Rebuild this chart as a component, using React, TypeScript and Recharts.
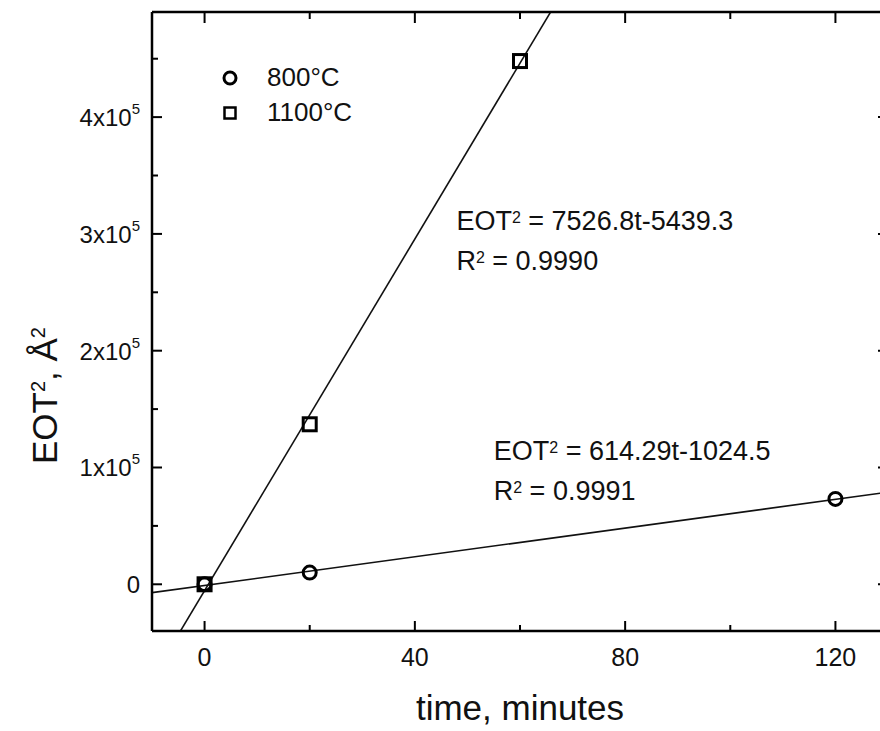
import { ComposedChart, Scatter, XAxis, YAxis, ReferenceLine, ReferenceDot, Legend } from 'recharts';

// measured EOT^2 (Å^2) against oxidation time (minutes)
const times800 = [0, 20, 120];
const eot800 = [0, 10000, 73100];
const times1100 = [0, 20, 60];
const eot1100 = [0, 137000, 448000];

// linear fits as printed on the figure
const fit800 = { slope: 614.29, intercept: -1024.5, r2: '0.9991' };
const fit1100 = { slope: 7526.8, intercept: -5439.3, r2: '0.9990' };

const xDomain = [-10, 130];
const yDomain = [-40000, 490000];
const xMajor = [0, 40, 80, 120];
const xMinor = [20, 60, 100];
const yMajor = [0, 100000, 200000, 300000, 400000];
const yMinor = [50000, 150000, 250000, 350000, 450000];

// where the fit equations sit, in data units (time, EOT^2)
const note1100 = { t: 47.9, eot: 303000 };
const note800 = { t: 55, eot: 106000 };

const FONT = '"Liberation Sans", Arial, Helvetica, sans-serif';
const INK = '#111';

const points800 = times800.map((t, i) => ({ t, eot: eot800[i] }));
const points1100 = times1100.map((t, i) => ({ t, eot: eot1100[i] }));

const fitLine = (f: { slope: number; intercept: number }) =>
  xDomain.map((t) => ({ x: t, y: f.slope * t + f.intercept }));

const BottomLabel = (props: any) => {
  const { x, y, payload } = props;
  return (
    <text x={x} y={y + 35} textAnchor="middle" fontSize={25} fontFamily={FONT} fill={INK}>
      {payload.value}
    </text>
  );
};

const LeftLabel = (props: any) => {
  const { x, y, payload } = props;
  const v = payload.value;
  return (
    <text x={x - 12} y={y + 9} textAnchor="end" fontSize={24} fontFamily={FONT} fill={INK}>
      {v === 0 ? (
        '0'
      ) : (
        <>
          {v / 100000}x10
          <tspan dy={-12} fontSize={15}>
            5
          </tspan>
        </>
      )}
    </text>
  );
};

const NoLabel = () => <g />;

// inward tick marks at both ends of a full-height / full-width reference line
const vTicks = (len: number) => (p: any) => {
  const top = Math.min(p.y1, p.y2);
  const bottom = Math.max(p.y1, p.y2);
  return (
    <g stroke="#000" strokeWidth={2}>
      <line x1={p.x1} x2={p.x1} y1={top} y2={top + len + 1} />
      <line x1={p.x1} x2={p.x1} y1={bottom} y2={bottom - len} />
    </g>
  );
};

const hTicks = (len: number) => (p: any) => {
  const left = Math.min(p.x1, p.x2);
  const right = Math.max(p.x1, p.x2);
  return (
    <g stroke="#000" strokeWidth={2}>
      <line x1={left} x2={left + len} y1={p.y1} y2={p.y1} />
      <line x1={right} x2={right - len} y1={p.y1} y2={p.y1} />
    </g>
  );
};

const Circle = (props: any) => (
  <circle cx={props.cx} cy={props.cy} r={6.5} fill="none" stroke="#000" strokeWidth={3} />
);

const Square = (props: any) => (
  <rect x={props.cx - 6.5} y={props.cy - 6.5} width={13} height={13} fill="none" stroke="#000" strokeWidth={3} />
);

const fitNote = (f: { slope: number; intercept: number; r2: string }) => (props: any) => {
  const { x, y } = props.viewBox;
  return (
    <g fontFamily={FONT} fontSize={27} fill={INK}>
      <text x={x} y={y}>
        EOT
        <tspan dy={-7} fontSize={16}>
          2
        </tspan>
        <tspan dy={7}> = {f.slope}t{f.intercept}</tspan>
      </text>
      <text x={x} y={y + 40}>
        R
        <tspan dy={-7} fontSize={16}>
          2
        </tspan>
        <tspan dy={7}> = {f.r2}</tspan>
      </text>
    </g>
  );
};

const YTitle = (props: any) => {
  const vb = props.viewBox;
  const cx = 57;
  const cy = vb.y + vb.height / 2 + 74;
  return (
    <text
      x={cx}
      y={cy}
      transform={`rotate(-90, ${cx}, ${cy})`}
      textAnchor="middle"
      fontSize={35}
      fontFamily={FONT}
      fill={INK}
    >
      EOT
      <tspan dy={-12} fontSize={20}>
        2
      </tspan>
      <tspan dy={12}>, Å</tspan>
      <tspan dy={-12} fontSize={20}>
        2
      </tspan>
    </text>
  );
};

const LegendBox = () => (
  <div style={{ fontFamily: FONT, fontSize: 26, color: INK }}>
    {[
      { name: '800°C', shape: 'circle' },
      { name: '1100°C', shape: 'square' },
    ].map((s) => (
      <div key={s.name} style={{ display: 'flex', alignItems: 'center', height: 35 }}>
        <svg width={20} height={20}>
          {s.shape === 'circle' ? (
            <circle cx={10} cy={10} r={6} fill="none" stroke="#000" strokeWidth={3} />
          ) : (
            <rect x={4.5} y={4.5} width={11} height={11} fill="none" stroke="#000" strokeWidth={2.5} />
          )}
        </svg>
        <span style={{ marginLeft: 27 }}>{s.name}</span>
      </div>
    ))}
  </div>
);

const frame = { stroke: '#000', strokeWidth: 2.5 };

export default function App() {
  return (
    <div
      style={{
        position: 'absolute',
        left: 0,
        top: 0,
        width: 880,
        height: 731,
        overflow: 'hidden',
        background: '#fff',
      }}
    >
      <ComposedChart width={890} height={731} margin={{ top: 12, right: 2, bottom: 0, left: 0 }}>
        <XAxis
          xAxisId="x"
          dataKey="t"
          type="number"
          domain={xDomain}
          ticks={xMajor}
          interval={0}
          allowDataOverflow
          height={100}
          tickSize={0}
          tickMargin={0}
          tickLine={false}
          tick={<BottomLabel />}
          axisLine={frame}
          label={{
            value: 'time, minutes',
            position: 'insideBottom',
            offset: 11,
            fontSize: 35,
            fontFamily: FONT,
            fill: INK,
          }}
        />
        <YAxis
          yAxisId="y"
          dataKey="eot"
          type="number"
          domain={yDomain}
          ticks={yMajor}
          interval={0}
          allowDataOverflow
          width={152}
          tickSize={0}
          tickMargin={0}
          tickLine={false}
          tick={<LeftLabel />}
          axisLine={frame}
          label={<YTitle />}
        />
        {/* top and right frame */}
        <XAxis
          xAxisId="xt"
          orientation="top"
          mirror
          type="number"
          domain={xDomain}
          allowDataOverflow
          height={0.01}
          tick={<NoLabel />}
          tickLine={false}
          axisLine={frame}
        />
        <YAxis
          yAxisId="yr"
          orientation="right"
          mirror
          type="number"
          domain={yDomain}
          allowDataOverflow
          width={0.01}
          tick={<NoLabel />}
          tickLine={false}
          axisLine={frame}
        />
        {xMajor.map((t) => (
          <ReferenceLine key={`xM${t}`} xAxisId="x" yAxisId="y" x={t} shape={vTicks(10)} />
        ))}
        {xMinor.map((t) => (
          <ReferenceLine key={`xm${t}`} xAxisId="x" yAxisId="y" x={t} shape={vTicks(6)} />
        ))}
        {yMajor.map((v) => (
          <ReferenceLine key={`yM${v}`} xAxisId="x" yAxisId="y" y={v} shape={hTicks(10)} />
        ))}
        {yMinor.map((v) => (
          <ReferenceLine key={`ym${v}`} xAxisId="x" yAxisId="y" y={v} shape={hTicks(6)} />
        ))}
        <ReferenceLine
          xAxisId="x"
          yAxisId="y"
          segment={fitLine(fit800)}
          ifOverflow="hidden"
          stroke={INK}
          strokeWidth={1.6}
        />
        <ReferenceLine
          xAxisId="x"
          yAxisId="y"
          segment={fitLine(fit1100)}
          ifOverflow="hidden"
          stroke={INK}
          strokeWidth={1.6}
        />
        <Scatter
          name="800°C"
          xAxisId="x"
          yAxisId="y"
          data={points800}
          shape={<Circle />}
          isAnimationActive={false}
        />
        <Scatter
          name="1100°C"
          xAxisId="x"
          yAxisId="y"
          data={points1100}
          shape={<Square />}
          isAnimationActive={false}
        />
        <ReferenceDot
          xAxisId="x"
          yAxisId="y"
          x={note1100.t}
          y={note1100.eot}
          r={0}
          fill="none"
          stroke="none"
          label={fitNote(fit1100)}
        />
        <ReferenceDot
          xAxisId="x"
          yAxisId="y"
          x={note800.t}
          y={note800.eot}
          r={0}
          fill="none"
          stroke="none"
          label={fitNote(fit800)}
        />
        <Legend
          layout="vertical"
          align="center"
          verticalAlign="middle"
          content={() => <LegendBox />}
          wrapperStyle={{ left: 220, top: 60, width: 'auto' }}
        />
      </ComposedChart>
    </div>
  );
}
